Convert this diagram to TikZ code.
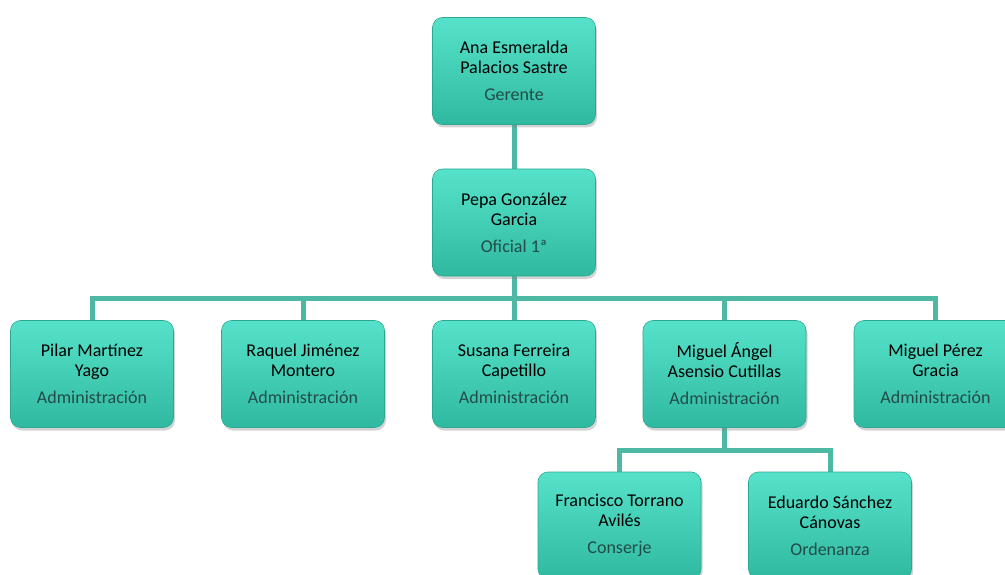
\documentclass[tikz,border=0pt]{standalone}
\usepackage{fontspec}
\setmainfont{Carlito}
\usetikzlibrary{shadows,backgrounds}
\definecolor{boxtop}{HTML}{56E2CA}
\definecolor{boxmid}{HTML}{40D4BC}
\definecolor{boxbot}{HTML}{30B9A1}
\definecolor{boxedge}{HTML}{2CA892}
\definecolor{linkc}{HTML}{4DB8A4}
\definecolor{subc}{HTML}{234B47}
\tikzset{
  person/.style={rounded corners=10pt, minimum width=163pt, minimum height=107pt,
    top color=boxtop, middle color=boxmid, bottom color=boxbot, draw=boxedge, line width=0.6pt,
    drop shadow={opacity=0.35, shadow xshift=1.5pt, shadow yshift=-3pt},
    align=center, font=\fontsize{18}{20}\selectfont, inner sep=0pt},
  link/.style={draw=linkc, line width=5pt},
}
\newcommand{\role}[1]{\\[7pt]{\color{subc}#1}}
\begin{document}
\begin{tikzpicture}[x=1pt,y=1pt]
\useasboundingbox (0,0) rectangle (1005,-575);
\clip (0,0) rectangle (1005,-575);
\node[person] (a) at (514,-71) {Ana Esmeralda\\Palacios Sastre\role{Gerente}};
\node[person] (b) at (514,-222.5) {Pepa González\\Garcia\role{Oficial 1ª}};
\node[person] (c1) at (92,-374) {Pilar Martínez\\Yago\role{Administración}};
\node[person] (c2) at (303,-374) {Raquel Jiménez\\Montero\role{Administración}};
\node[person] (c3) at (514,-374) {Susana Ferreira\\Capetillo\role{Administración}};
\node[person] (c4) at (724.5,-374) {Miguel Ángel\\Asensio Cutillas\role{Administración}};
\node[person] (c5) at (935.5,-374) {Miguel Pérez\\Gracia\role{Administración}};
\node[person] (d1) at (619.5,-525.5) {Francisco Torrano\\Avilés\role{Conserje}};
\node[person] (d2) at (830,-525.5) {Eduardo Sánchez\\Cánovas\role{Ordenanza}};
\coordinate (bus1) at (514,-298);
\coordinate (bus2) at (724.5,-450);
\begin{scope}[on background layer]
\draw[link] (a.south) -- (b.north);
\draw[link] (b.south) -- (bus1);
\foreach \n in {c1,c2,c3,c4,c5}{\draw[link] (bus1) -| (\n.north);}
\draw[link] (c4.south) -- (bus2);
\foreach \n in {d1,d2}{\draw[link] (bus2) -| (\n.north);}
\end{scope}
\end{tikzpicture}
\end{document}
